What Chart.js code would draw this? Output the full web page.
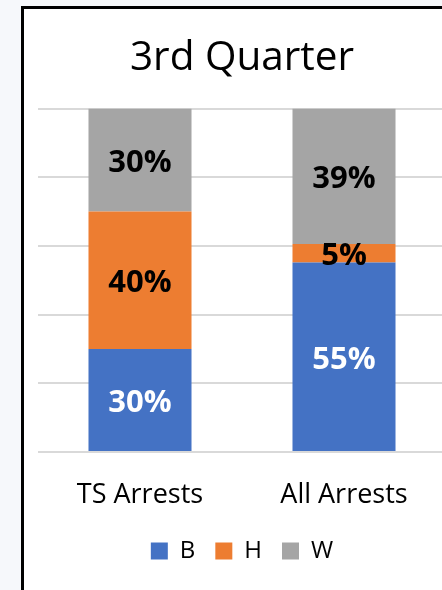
<!DOCTYPE html>
<html>
<head>
<meta charset="utf-8">
<script src="https://cdn.jsdelivr.net/npm/chart.js@4"></script>
<style>
  html, body { margin: 0; padding: 0; width: 442px; height: 590px; overflow: hidden; background: #f6f8fb; }
  #frame { position: absolute; left: 21px; top: 6px; width: 520px; height: 620px; background: #fff;
           border-left: 3px solid #000; border-top: 3px solid #000; }
  #wrap { position: absolute; left: 0; top: 0; width: 480px; height: 590px; }
</style>
</head>
<body>
<div id="frame"></div>
<div id="wrap"><canvas id="c" width="480" height="590"></canvas></div>
<script>
const categories = ["TS Arrests", "All Arrests"];
const seriesNames = ["B", "H", "W"];
const valuesB = [30, 55.2];
const valuesH = [40, 5.4];
const valuesW = [30, 39.4];
const yTicks = [0, 20, 40, 60, 80, 100];
const titleText = "3rd Quarter";

const colors = ["#4472C4", "#ED7D31", "#A5A5A5"];
const labelColors = ["#ffffff", "#000000", "#000000"];
const FONT = "'Open Sans', 'Segoe UI', sans-serif";

const labelPlugin = {
  id: 'segLabels',
  afterDatasetsDraw(chart) {
    const ctx = chart.ctx;
    ctx.save();
    ctx.font = "bold 31px " + FONT;
    ctx.textAlign = 'center';
    ctx.textBaseline = 'middle';
    chart.data.datasets.forEach((ds, i) => {
      const meta = chart.getDatasetMeta(i);
      meta.data.forEach((bar, j) => {
        const v = ds.data[j];
        const y = (bar.y + bar.base) / 2 + 3;
        ctx.fillStyle = labelColors[i];
        ctx.fillText(Math.round(v) + "%", bar.x, y);
      });
    });
    ctx.restore();
  }
};

new Chart(document.getElementById('c'), {
  type: 'bar',
  data: {
    labels: categories,
    datasets: [
      { label: seriesNames[0], data: valuesB, backgroundColor: colors[0] },
      { label: seriesNames[1], data: valuesH, backgroundColor: colors[1] },
      { label: seriesNames[2], data: valuesW, backgroundColor: colors[2] }
    ]
  },
  options: {
    responsive: false,
    animation: false,
    layout: { padding: { left: 38, right: 34, top: 12, bottom: 17 } },
    datasets: { bar: { barPercentage: 0.505, categoryPercentage: 1.0 } },
    plugins: {
      title: { display: true, text: titleText, color: '#000',
               font: { family: FONT, size: 40.5, weight: 'normal', lineHeight: 1.2 },
               padding: { top: 22, bottom: 26 } },
      legend: { position: 'bottom',
                labels: { color: '#000', font: { family: FONT, size: 24 }, boxWidth: 17, boxHeight: 17,
                          padding: 20, useBorderRadius: false } },
      tooltip: { enabled: false }
    },
    scales: {
      x: { stacked: true, grid: { display: false, drawTicks: false }, border: { display: false },
           afterFit(scale) { scale.height = 67; },
           ticks: { color: '#000', padding: 30, font: { family: FONT, size: 27, lineHeight: 1.0 } } },
      y: { stacked: true, min: 0, max: 100,
           afterBuildTicks(scale) { scale.ticks = yTicks.map(v => ({ value: v })); },
           grid: { color: '#d9d9d9', lineWidth: 2, drawTicks: false }, border: { display: false },
           ticks: { display: false } }
    }
  },
  plugins: [labelPlugin]
});
</script>
</body>
</html>
